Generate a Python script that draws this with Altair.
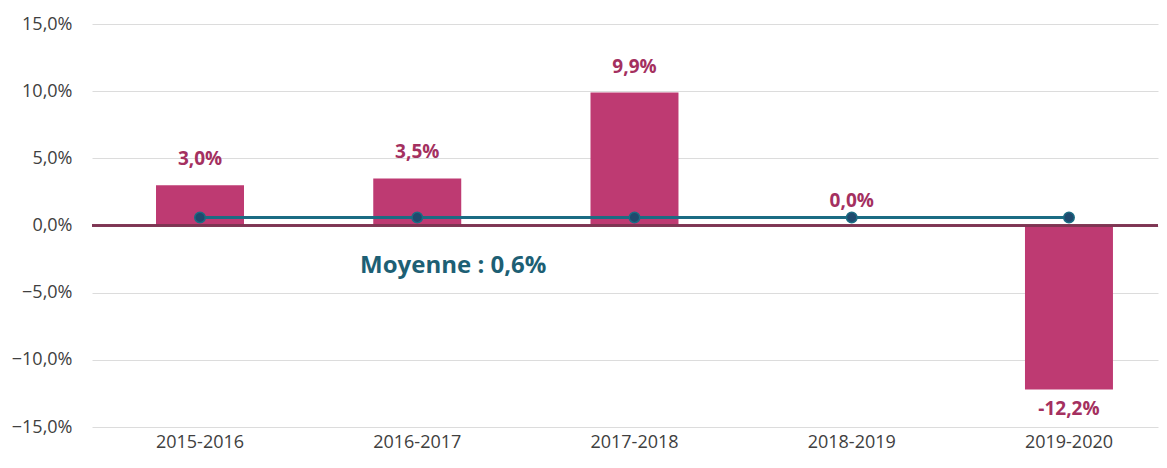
import altair as alt
import pandas as pd

years = ["2015-2016", "2016-2017", "2017-2018", "2018-2019", "2019-2020"]
variation = [0.030, 0.035, 0.099, 0.000, -0.122]
mean_value = 0.006
mean_label = "Moyenne : 0,6%"
y_ticks = [-0.15, -0.10, -0.05, 0.0, 0.05, 0.10, 0.15]

df = pd.DataFrame({"year": years, "value": variation})
df["label"] = [("%.1f%%" % (v * 100)).replace(".", ",") for v in variation]
df["mean"] = mean_value

FONT = "Open Sans"
x_scale = alt.Scale(domain=years, paddingInner=0.595, paddingOuter=0.251, align=0.587)
y_scale = alt.Scale(domain=[-0.15, 0.15], nice=False)

x_enc = alt.X("year:N", scale=x_scale, sort=years,
              axis=alt.Axis(title=None, labelAngle=0, domain=False, ticks=False, grid=False,
                            labelFont=FONT, labelFontSize=18, labelColor="#404040",
                            labelPadding=6))
y_axis = alt.Axis(title=None, values=y_ticks, domain=False, ticks=False,
                  labelExpr="replace(format(datum.value, '.1%'), '.', ',')",
                  labelFont=FONT, labelFontSize=18, labelColor="#404040",
                  labelPadding=20, gridColor="#DCDCDC", gridWidth=1)

base = alt.Chart(df)
x_plain = alt.X("year:N", scale=x_scale, sort=years)

bars = base.mark_bar(color="#BE3A72").encode(
    x=x_enc,
    y=alt.Y("value:Q", scale=y_scale, axis=y_axis),
)

zero = base.mark_rule(color="#7E3553", strokeWidth=2).encode(
    y=alt.YDatum(0),
    x=alt.value(0), x2=alt.value(1066),
)

mean_line = base.mark_line(color="#1B6C83", strokeWidth=3).encode(
    x=x_plain,
    y=alt.Y("mean:Q", scale=y_scale),
)
mean_pts = base.mark_point(filled=True, size=110, color="#1F4A6E", stroke="#1B6C83",
                           strokeWidth=1.5, opacity=1).encode(
    x=x_plain,
    y=alt.Y("mean:Q", scale=y_scale),
)

pos_labels = base.transform_filter("datum.value > 0").mark_text(
    font=FONT, fontSize=19, fontWeight="bold", color="#A4305F", dy=-26
).encode(x=x_plain, y=alt.Y("value:Q", scale=y_scale), text="label:N")

zero_labels = base.transform_filter("datum.value == 0").mark_text(
    font=FONT, fontSize=19, fontWeight="bold", color="#A4305F", dy=-25
).encode(x=x_plain, y=alt.Y("value:Q", scale=y_scale), text="label:N")

neg_labels = base.transform_filter("datum.value < 0").mark_text(
    font=FONT, fontSize=19, fontWeight="bold", color="#A4305F", dy=20
).encode(x=x_plain, y=alt.Y("value:Q", scale=y_scale), text="label:N")

mean_text = alt.Chart(pd.DataFrame({"year": [years[1]], "v": [-0.03], "t": [mean_label]})).mark_text(
    font=FONT, fontSize=24, fontWeight="bold", color="#1D5F74", dx=36
).encode(
    x=x_plain,
    y=alt.Y("v:Q", scale=y_scale),
    text="t:N",
)

chart = alt.layer(bars, zero, mean_line, mean_pts, pos_labels, zero_labels, neg_labels, mean_text).properties(
    width=1066, height=403,
    autosize=alt.AutoSizeParams(type="none"),
    padding={"left": 84, "top": 16, "right": 1, "bottom": 40},
    background="white",
).configure_view(stroke=None)

chart.save("out.html", embed_options={"renderer": "svg", "actions": False})
